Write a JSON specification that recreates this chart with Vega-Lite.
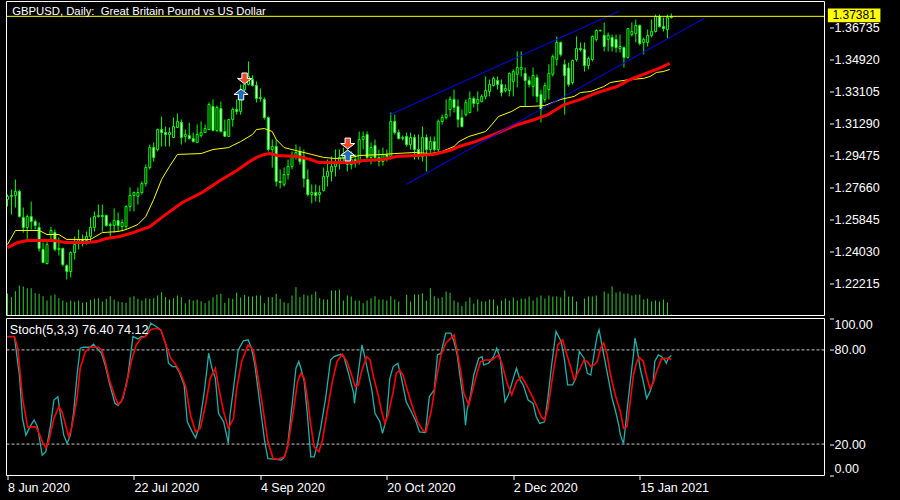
{
"$schema": "https://vega.github.io/schema/vega-lite/v6.json",
"background": "black",
"autosize": {"type": "none"},
"width": 828,
"height": 474,
"padding": {"left": 1.5, "top": 1.5, "right": 70.5, "bottom": 24.5},
"config": {
 "view": {"stroke": null},
 "axis": {"labelColor": "#FFFFFF", "tickColor": "#FFFFFF", "domain": false, "grid": false, "labelFont": "Liberation Sans", "labelFontSize": 12.5, "tickSize": 4, "labelPadding": 1},
 "text": {"font": "Liberation Sans"}
},
"datasets": {
"candles": [
{"i":0,"o":1.2700,"h":1.2728,"l":1.2660,"c":1.2717},
{"i":1,"o":1.2717,"h":1.2756,"l":1.2614,"c":1.2722},
{"i":2,"o":1.2722,"h":1.2813,"l":1.2654,"c":1.2745},
{"i":3,"o":1.2745,"h":1.2756,"l":1.2597,"c":1.2603},
{"i":4,"o":1.2597,"h":1.2654,"l":1.2512,"c":1.2541},
{"i":5,"o":1.2541,"h":1.2614,"l":1.2473,"c":1.2603},
{"i":6,"o":1.2603,"h":1.2688,"l":1.2529,"c":1.2575},
{"i":7,"o":1.2575,"h":1.2586,"l":1.2529,"c":1.2552},
{"i":8,"o":1.2541,"h":1.2569,"l":1.2405,"c":1.2422},
{"i":9,"o":1.2416,"h":1.2456,"l":1.2338,"c":1.2342},
{"i":10,"o":1.2337,"h":1.2461,"l":1.2331,"c":1.2444},
{"i":11,"o":1.2501,"h":1.2546,"l":1.2473,"c":1.2524},
{"i":12,"o":1.2512,"h":1.2529,"l":1.2405,"c":1.2416},
{"i":13,"o":1.2416,"h":1.2484,"l":1.2382,"c":1.2422},
{"i":14,"o":1.2422,"h":1.2427,"l":1.2320,"c":1.2331},
{"i":15,"o":1.2325,"h":1.2331,"l":1.2246,"c":1.2291},
{"i":16,"o":1.2291,"h":1.2405,"l":1.2257,"c":1.2399},
{"i":17,"o":1.2399,"h":1.2490,"l":1.2359,"c":1.2444},
{"i":18,"o":1.2456,"h":1.2529,"l":1.2416,"c":1.2473},
{"i":19,"o":1.2473,"h":1.2501,"l":1.2433,"c":1.2461},
{"i":20,"o":1.2467,"h":1.2518,"l":1.2444,"c":1.2490},
{"i":21,"o":1.2490,"h":1.2597,"l":1.2461,"c":1.2541},
{"i":22,"o":1.2541,"h":1.2632,"l":1.2518,"c":1.2603},
{"i":23,"o":1.2603,"h":1.2671,"l":1.2597,"c":1.2609},
{"i":24,"o":1.2609,"h":1.2671,"l":1.2518,"c":1.2603},
{"i":25,"o":1.2609,"h":1.2614,"l":1.2546,"c":1.2552},
{"i":26,"o":1.2552,"h":1.2569,"l":1.2490,"c":1.2558},
{"i":27,"o":1.2552,"h":1.2649,"l":1.2512,"c":1.2580},
{"i":28,"o":1.2580,"h":1.2626,"l":1.2518,"c":1.2552},
{"i":29,"o":1.2546,"h":1.2586,"l":1.2518,"c":1.2569},
{"i":30,"o":1.2546,"h":1.2666,"l":1.2529,"c":1.2660},
{"i":31,"o":1.2660,"h":1.2768,"l":1.2632,"c":1.2722},
{"i":32,"o":1.2722,"h":1.2745,"l":1.2632,"c":1.2739},
{"i":33,"o":1.2717,"h":1.2768,"l":1.2671,"c":1.2739},
{"i":34,"o":1.2739,"h":1.2802,"l":1.2728,"c":1.2790},
{"i":35,"o":1.2790,"h":1.2898,"l":1.2773,"c":1.2881},
{"i":36,"o":1.2881,"h":1.3011,"l":1.2870,"c":1.2994},
{"i":37,"o":1.2994,"h":1.3023,"l":1.2915,"c":1.2938},
{"i":38,"o":1.2983,"h":1.3102,"l":1.2972,"c":1.3096},
{"i":39,"o":1.3096,"h":1.3170,"l":1.3000,"c":1.3079},
{"i":40,"o":1.3079,"h":1.3113,"l":1.3000,"c":1.3068},
{"i":41,"o":1.3068,"h":1.3108,"l":1.3000,"c":1.3079},
{"i":42,"o":1.3051,"h":1.3164,"l":1.3049,"c":1.3113},
{"i":43,"o":1.3108,"h":1.3187,"l":1.3105,"c":1.3142},
{"i":44,"o":1.3136,"h":1.3153,"l":1.3011,"c":1.3051},
{"i":45,"o":1.3057,"h":1.3096,"l":1.3023,"c":1.3068},
{"i":46,"o":1.3062,"h":1.3136,"l":1.3040,"c":1.3045},
{"i":47,"o":1.3045,"h":1.3079,"l":1.3023,"c":1.3028},
{"i":48,"o":1.3023,"h":1.3125,"l":1.3020,"c":1.3068},
{"i":49,"o":1.3062,"h":1.3142,"l":1.3051,"c":1.3079},
{"i":50,"o":1.3079,"h":1.3125,"l":1.3077,"c":1.3102},
{"i":51,"o":1.3096,"h":1.3250,"l":1.3094,"c":1.3238},
{"i":52,"o":1.3227,"h":1.3267,"l":1.3085,"c":1.3091},
{"i":53,"o":1.3091,"h":1.3232,"l":1.3083,"c":1.3221},
{"i":54,"o":1.3215,"h":1.3255,"l":1.3079,"c":1.3085},
{"i":55,"o":1.3085,"h":1.3153,"l":1.3055,"c":1.3058},
{"i":56,"o":1.3057,"h":1.3156,"l":1.3055,"c":1.3153},
{"i":57,"o":1.3153,"h":1.3221,"l":1.3113,"c":1.3210},
{"i":58,"o":1.3210,"h":1.3267,"l":1.3181,"c":1.3199},
{"i":59,"o":1.3199,"h":1.3352,"l":1.3181,"c":1.3323},
{"i":60,"o":1.3323,"h":1.3380,"l":1.3312,"c":1.3352},
{"i":61,"o":1.3352,"h":1.3482,"l":1.3346,"c":1.3397},
{"i":62,"o":1.3380,"h":1.3403,"l":1.3340,"c":1.3346},
{"i":63,"o":1.3346,"h":1.3369,"l":1.3250,"c":1.3272},
{"i":64,"o":1.3272,"h":1.3329,"l":1.3255,"c":1.3278},
{"i":65,"o":1.3267,"h":1.3278,"l":1.3153,"c":1.3164},
{"i":66,"o":1.3164,"h":1.3170,"l":1.2972,"c":1.2983},
{"i":67,"o":1.2983,"h":1.3040,"l":1.2881,"c":1.3000},
{"i":68,"o":1.3000,"h":1.3040,"l":1.2773,"c":1.2802},
{"i":69,"o":1.2802,"h":1.2870,"l":1.2762,"c":1.2796},
{"i":70,"o":1.2785,"h":1.2881,"l":1.2773,"c":1.2841},
{"i":71,"o":1.2841,"h":1.2926,"l":1.2813,"c":1.2887},
{"i":72,"o":1.2887,"h":1.2972,"l":1.2870,"c":1.2943},
{"i":73,"o":1.2943,"h":1.3011,"l":1.2926,"c":1.2966},
{"i":74,"o":1.2972,"h":1.3000,"l":1.2898,"c":1.2915},
{"i":75,"o":1.2943,"h":1.2983,"l":1.2768,"c":1.2819},
{"i":76,"o":1.2813,"h":1.2870,"l":1.2717,"c":1.2728},
{"i":77,"o":1.2728,"h":1.2785,"l":1.2677,"c":1.2739},
{"i":78,"o":1.2739,"h":1.2785,"l":1.2688,"c":1.2722},
{"i":79,"o":1.2728,"h":1.2779,"l":1.2683,"c":1.2739},
{"i":80,"o":1.2751,"h":1.2881,"l":1.2745,"c":1.2830},
{"i":81,"o":1.2830,"h":1.2926,"l":1.2773,"c":1.2858},
{"i":82,"o":1.2858,"h":1.2943,"l":1.2802,"c":1.2887},
{"i":83,"o":1.2887,"h":1.2983,"l":1.2830,"c":1.2904},
{"i":84,"o":1.2904,"h":1.2983,"l":1.2870,"c":1.2938},
{"i":85,"o":1.2938,"h":1.2994,"l":1.2915,"c":1.2960},
{"i":86,"o":1.2960,"h":1.2983,"l":1.2858,"c":1.2898},
{"i":87,"o":1.2898,"h":1.2972,"l":1.2870,"c":1.2926},
{"i":88,"o":1.2926,"h":1.2955,"l":1.2881,"c":1.2909},
{"i":89,"o":1.2909,"h":1.3085,"l":1.2898,"c":1.3040},
{"i":90,"o":1.3040,"h":1.3085,"l":1.2983,"c":1.3057},
{"i":91,"o":1.3068,"h":1.3085,"l":1.2926,"c":1.2938},
{"i":92,"o":1.2938,"h":1.3023,"l":1.2898,"c":1.2994},
{"i":93,"o":1.3006,"h":1.3040,"l":1.2915,"c":1.2938},
{"i":94,"o":1.2938,"h":1.2983,"l":1.2887,"c":1.2915},
{"i":95,"o":1.2915,"h":1.2994,"l":1.2892,"c":1.2955},
{"i":96,"o":1.2955,"h":1.2983,"l":1.2915,"c":1.2943},
{"i":97,"o":1.2943,"h":1.3193,"l":1.2926,"c":1.3142},
{"i":98,"o":1.3142,"h":1.3181,"l":1.3068,"c":1.3079},
{"i":99,"o":1.3079,"h":1.3096,"l":1.3040,"c":1.3045},
{"i":100,"o":1.3045,"h":1.3062,"l":1.3034,"c":1.3051},
{"i":101,"o":1.3057,"h":1.3079,"l":1.3000,"c":1.3011},
{"i":102,"o":1.3011,"h":1.3079,"l":1.2983,"c":1.3051},
{"i":103,"o":1.3051,"h":1.3068,"l":1.2926,"c":1.2983},
{"i":104,"o":1.2983,"h":1.3068,"l":1.2926,"c":1.2943},
{"i":105,"o":1.2943,"h":1.3113,"l":1.2915,"c":1.3051},
{"i":106,"o":1.3051,"h":1.3068,"l":1.2858,"c":1.2983},
{"i":107,"o":1.2983,"h":1.3057,"l":1.2955,"c":1.3028},
{"i":108,"o":1.3028,"h":1.3057,"l":1.2972,"c":1.2983},
{"i":109,"o":1.2983,"h":1.3153,"l":1.2972,"c":1.3142},
{"i":110,"o":1.3142,"h":1.3181,"l":1.3125,"c":1.3164},
{"i":111,"o":1.3164,"h":1.3267,"l":1.3153,"c":1.3181},
{"i":112,"o":1.3210,"h":1.3284,"l":1.3170,"c":1.3267},
{"i":113,"o":1.3267,"h":1.3323,"l":1.3193,"c":1.3221},
{"i":114,"o":1.3227,"h":1.3267,"l":1.3108,"c":1.3153},
{"i":115,"o":1.3164,"h":1.3210,"l":1.3108,"c":1.3113},
{"i":116,"o":1.3181,"h":1.3267,"l":1.3170,"c":1.3250},
{"i":117,"o":1.3193,"h":1.3312,"l":1.3187,"c":1.3272},
{"i":118,"o":1.3272,"h":1.3284,"l":1.3221,"c":1.3244},
{"i":119,"o":1.3244,"h":1.3312,"l":1.3199,"c":1.3267},
{"i":120,"o":1.3255,"h":1.3295,"l":1.3250,"c":1.3284},
{"i":121,"o":1.3284,"h":1.3397,"l":1.3267,"c":1.3318},
{"i":122,"o":1.3312,"h":1.3380,"l":1.3284,"c":1.3352},
{"i":123,"o":1.3346,"h":1.3397,"l":1.3340,"c":1.3386},
{"i":124,"o":1.3374,"h":1.3397,"l":1.3323,"c":1.3352},
{"i":125,"o":1.3352,"h":1.3380,"l":1.3284,"c":1.3306},
{"i":126,"o":1.3318,"h":1.3352,"l":1.3306,"c":1.3329},
{"i":127,"o":1.3318,"h":1.3420,"l":1.3284,"c":1.3414},
{"i":128,"o":1.3369,"h":1.3437,"l":1.3284,"c":1.3425},
{"i":129,"o":1.3409,"h":1.3539,"l":1.3335,"c":1.3448},
{"i":130,"o":1.3437,"h":1.3539,"l":1.3397,"c":1.3448},
{"i":131,"o":1.3414,"h":1.3448,"l":1.3227,"c":1.3374},
{"i":132,"o":1.3374,"h":1.3397,"l":1.3335,"c":1.3352},
{"i":133,"o":1.3340,"h":1.3448,"l":1.3284,"c":1.3403},
{"i":134,"o":1.3391,"h":1.3409,"l":1.3250,"c":1.3284},
{"i":135,"o":1.3295,"h":1.3323,"l":1.3136,"c":1.3210},
{"i":136,"o":1.3267,"h":1.3363,"l":1.3250,"c":1.3346},
{"i":137,"o":1.3323,"h":1.3465,"l":1.3267,"c":1.3414},
{"i":138,"o":1.3409,"h":1.3522,"l":1.3397,"c":1.3510},
{"i":139,"o":1.3494,"h":1.3624,"l":1.3459,"c":1.3590},
{"i":140,"o":1.3590,"h":1.3595,"l":1.3510,"c":1.3522},
{"i":141,"o":1.3465,"h":1.3493,"l":1.3181,"c":1.3403},
{"i":142,"o":1.3445,"h":1.3476,"l":1.3340,"c":1.3352},
{"i":143,"o":1.3363,"h":1.3493,"l":1.3352,"c":1.3488},
{"i":144,"o":1.3493,"h":1.3624,"l":1.3482,"c":1.3556},
{"i":145,"o":1.3556,"h":1.3590,"l":1.3539,"c":1.3550},
{"i":146,"o":1.3550,"h":1.3590,"l":1.3425,"c":1.3459},
{"i":147,"o":1.3459,"h":1.3510,"l":1.3437,"c":1.3499},
{"i":148,"o":1.3493,"h":1.3630,"l":1.3482,"c":1.3624},
{"i":149,"o":1.3607,"h":1.3663,"l":1.3595,"c":1.3658},
{"i":150,"o":1.3656,"h":1.3663,"l":1.3652,"c":1.3658},
{"i":151,"o":1.3630,"h":1.3703,"l":1.3539,"c":1.3567},
{"i":152,"o":1.3607,"h":1.3646,"l":1.3539,"c":1.3630},
{"i":153,"o":1.3618,"h":1.3635,"l":1.3539,"c":1.3567},
{"i":154,"o":1.3607,"h":1.3635,"l":1.3533,"c":1.3561},
{"i":155,"o":1.3556,"h":1.3635,"l":1.3533,"c":1.3567},
{"i":156,"o":1.3561,"h":1.3567,"l":1.3448,"c":1.3505},
{"i":157,"o":1.3505,"h":1.3669,"l":1.3499,"c":1.3669},
{"i":158,"o":1.3635,"h":1.3703,"l":1.3624,"c":1.3652},
{"i":159,"o":1.3641,"h":1.3720,"l":1.3590,"c":1.3686},
{"i":160,"o":1.3686,"h":1.3692,"l":1.3573,"c":1.3584},
{"i":161,"o":1.3590,"h":1.3618,"l":1.3522,"c":1.3607},
{"i":162,"o":1.3590,"h":1.3663,"l":1.3567,"c":1.3630},
{"i":163,"o":1.3630,"h":1.3720,"l":1.3618,"c":1.3652},
{"i":164,"o":1.3652,"h":1.3748,"l":1.3646,"c":1.3737},
{"i":165,"o":1.3737,"h":1.3748,"l":1.3675,"c":1.3680},
{"i":166,"o":1.3680,"h":1.3731,"l":1.3652,"c":1.3669},
{"i":167,"o":1.3663,"h":1.3748,"l":1.3612,"c":1.3731},
{"i":168,"o":1.3731,"h":1.3754,"l":1.3726,"c":1.37381}
],
"vol": [
{"i":0,"v":110000},{"i":1,"v":91500},{"i":2,"v":121500},{"i":3,"v":150000},{"i":4,"v":145000},{"i":5,"v":136500},{"i":6,"v":136500},{"i":7,"v":111500},{"i":8,"v":108500},{"i":9,"v":96500},
{"i":10,"v":75000},{"i":11,"v":100000},{"i":12,"v":105000},{"i":13,"v":86500},{"i":14,"v":75000},{"i":15,"v":66500},{"i":16,"v":75000},{"i":17,"v":70000},{"i":18,"v":75000},{"i":19,"v":63500},
{"i":20,"v":66500},{"i":21,"v":78500},{"i":22,"v":83500},{"i":23,"v":86500},{"i":24,"v":70000},{"i":25,"v":83500},{"i":26,"v":96500},{"i":27,"v":80000},{"i":28,"v":70000},{"i":29,"v":66500},
{"i":30,"v":63500},{"i":31,"v":91500},{"i":32,"v":96500},{"i":33,"v":83500},{"i":34,"v":75000},{"i":35,"v":86500},{"i":36,"v":83500},{"i":37,"v":86500},{"i":38,"v":100000},{"i":39,"v":116500},
{"i":40,"v":91500},{"i":41,"v":80000},{"i":42,"v":86500},{"i":43,"v":100000},{"i":44,"v":91500},{"i":45,"v":61500},{"i":46,"v":80000},{"i":47,"v":75000},{"i":48,"v":80000},{"i":49,"v":71500},
{"i":50,"v":61500},{"i":51,"v":75000},{"i":52,"v":91500},{"i":53,"v":105000},{"i":54,"v":108500},{"i":55,"v":63500},{"i":56,"v":86500},{"i":57,"v":83500},{"i":58,"v":115000},{"i":59,"v":90000},
{"i":60,"v":103500},{"i":61,"v":95000},{"i":62,"v":95000},{"i":63,"v":100000},{"i":64,"v":100000},{"i":65,"v":61500},{"i":66,"v":91500},{"i":67,"v":91500},{"i":68,"v":108500},{"i":69,"v":83500},
{"i":70,"v":66500},{"i":71,"v":61500},{"i":72,"v":100000},{"i":73,"v":141500},{"i":74,"v":91500},{"i":75,"v":105000},{"i":76,"v":100000},{"i":77,"v":105000},{"i":78,"v":120000},{"i":79,"v":86500},
{"i":80,"v":80000},{"i":81,"v":80000},{"i":82,"v":125000},{"i":83,"v":125000},{"i":84,"v":130000},{"i":85,"v":75000},{"i":86,"v":100000},{"i":87,"v":95000},{"i":88,"v":75000},{"i":89,"v":75000},
{"i":90,"v":61500},{"i":91,"v":75000},{"i":92,"v":86500},{"i":93,"v":96500},{"i":94,"v":80000},{"i":95,"v":80000},{"i":96,"v":75000},{"i":97,"v":96500},{"i":98,"v":80000},{"i":99,"v":70000},
{"i":100,"v":2500},{"i":101,"v":103500},{"i":102,"v":70000},{"i":103,"v":105000},{"i":104,"v":105000},{"i":105,"v":111500},{"i":106,"v":75000},{"i":107,"v":136500},{"i":108,"v":96500},{"i":109,"v":86500},
{"i":110,"v":91500},{"i":111,"v":120000},{"i":112,"v":113500},{"i":113,"v":75000},{"i":114,"v":66500},{"i":115,"v":48000},{"i":116,"v":70000},{"i":117,"v":90000},{"i":118,"v":60000},{"i":119,"v":80000},
{"i":120,"v":70000},{"i":121,"v":70000},{"i":122,"v":80000},{"i":123,"v":80000},{"i":124,"v":50000},{"i":125,"v":75000},{"i":126,"v":85000},{"i":127,"v":75000},{"i":128,"v":90000},{"i":129,"v":75000},
{"i":130,"v":85000},{"i":131,"v":85000},{"i":132,"v":95000},{"i":133,"v":75000},{"i":134,"v":90000},{"i":135,"v":100000},{"i":136,"v":85000},{"i":137,"v":100000},{"i":138,"v":95000},{"i":139,"v":95000},
{"i":140,"v":90000},{"i":141,"v":125000},{"i":142,"v":95000},{"i":143,"v":95000},{"i":144,"v":70000},{"i":145,"v":2500},{"i":146,"v":85000},{"i":147,"v":95000},{"i":148,"v":95000},{"i":149,"v":100000},
{"i":150,"v":2500},{"i":151,"v":120000},{"i":152,"v":110000},{"i":153,"v":145000},{"i":154,"v":115000},{"i":155,"v":120000},{"i":156,"v":110000},{"i":157,"v":110000},{"i":158,"v":100000},{"i":159,"v":105000},
{"i":160,"v":105000},{"i":161,"v":80000},{"i":162,"v":85000},{"i":163,"v":70000},{"i":164,"v":75000},{"i":165,"v":70000},{"i":166,"v":80000},{"i":167,"v":65000},{"i":168,"v":5000}
],
"maf": [
{"i":0,"p":1.2444},{"i":2,"p":1.2524},{"i":8,"p":1.2524},{"i":10,"p":1.2501},{"i":13,"p":1.2501},{"i":15,"p":1.2473},{"i":21,"p":1.2473},{"i":24,"p":1.2512},{"i":28,"p":1.2518},{"i":30,"p":1.2529},
{"i":33,"p":1.2558},{"i":35,"p":1.2603},{"i":37,"p":1.2700},{"i":39,"p":1.2813},{"i":41,"p":1.2887},{"i":43,"p":1.2955},{"i":49,"p":1.2960},{"i":52,"p":1.2983},{"i":56,"p":1.2994},{"i":57,"p":1.3006},
{"i":59,"p":1.3028},{"i":62,"p":1.3068},{"i":63,"p":1.3096},{"i":65,"p":1.3102},{"i":67,"p":1.3085},{"i":68,"p":1.3040},{"i":70,"p":1.2994},{"i":73,"p":1.2977},{"i":77,"p":1.2955},{"i":80,"p":1.2938},
{"i":83,"p":1.2932},{"i":87,"p":1.2938},{"i":89,"p":1.2949},{"i":95,"p":1.2955},{"i":98,"p":1.2960},{"i":103,"p":1.2966},{"i":107,"p":1.2960},{"i":110,"p":1.2972},{"i":113,"p":1.3000},{"i":114.25,"p":1.3028},
{"i":116.75,"p":1.3057},{"i":121,"p":1.3085},{"i":122.6,"p":1.3125},{"i":124.25,"p":1.3170},{"i":127.6,"p":1.3199},{"i":129.7,"p":1.3227},{"i":132.2,"p":1.3227},{"i":135.9,"p":1.3232},{"i":140,"p":1.3267},{"i":143.4,"p":1.3284},
{"i":145,"p":1.3306},{"i":147.6,"p":1.3312},{"i":150.9,"p":1.3340},{"i":152.6,"p":1.3363},{"i":154.25,"p":1.3369},{"i":157.6,"p":1.3380},{"i":160.9,"p":1.3386},{"i":162.6,"p":1.3397},{"i":164.25,"p":1.3420},{"i":165.9,"p":1.3425},
{"i":167.6,"p":1.3437}
],
"mas": [
{"i":0,"p":1.2427},{"i":2.6,"p":1.2456},{"i":5,"p":1.2467},{"i":11.75,"p":1.2467},{"i":14.7,"p":1.2456},{"i":20,"p":1.2456},{"i":22.6,"p":1.2461},{"i":25,"p":1.2478},{"i":28.4,"p":1.2490},{"i":31.75,"p":1.2512},
{"i":36,"p":1.2546},{"i":40,"p":1.2614},{"i":44.25,"p":1.2683},{"i":49.25,"p":1.2739},{"i":53.4,"p":1.2802},{"i":56.75,"p":1.2847},{"i":58.4,"p":1.2870},{"i":60.9,"p":1.2909},{"i":63,"p":1.2938},{"i":65,"p":1.2955},
{"i":66.3,"p":1.2960},{"i":68.4,"p":1.2949},{"i":73.4,"p":1.2943},{"i":76.75,"p":1.2926},{"i":78.8,"p":1.2909},{"i":87.6,"p":1.2909},{"i":90,"p":1.2921},{"i":95,"p":1.2926},{"i":98.4,"p":1.2943},{"i":103.4,"p":1.2949},
{"i":107.6,"p":1.2955},{"i":110.9,"p":1.2972},{"i":112.6,"p":1.2983},{"i":114.25,"p":1.3000},{"i":118.4,"p":1.3028},{"i":124.25,"p":1.3079},{"i":128.4,"p":1.3119},{"i":133.4,"p":1.3153},{"i":136.75,"p":1.3181},{"i":140.9,"p":1.3238},
{"i":145,"p":1.3267},{"i":149.25,"p":1.3306},{"i":154.25,"p":1.3340},{"i":157.6,"p":1.3380},{"i":160.9,"p":1.3409},{"i":164.25,"p":1.3437},{"i":167.6,"p":1.3471}
],
"stk": [
{"i":0,"k":88.5},{"i":1.75,"k":88.5},{"i":3,"k":64.0},{"i":3.8,"k":36.4},{"i":4.67,"k":25.7},{"i":5.9,"k":32.1},{"i":6.75,"k":35.3},{"i":7.6,"k":31.0},{"i":8.8,"k":12.9},{"i":9.7,"k":15.1},
{"i":10.9,"k":32.1},{"i":11.75,"k":48.1},{"i":12.75,"k":50.2},{"i":13.4,"k":38.5},{"i":14.25,"k":25.7},{"i":15.1,"k":20.4},{"i":15.9,"k":25.7},{"i":16.75,"k":40.6},{"i":17.6,"k":64.0},{"i":18.4,"k":81.1},
{"i":19.25,"k":81.7},{"i":20.9,"k":81.7},{"i":21.75,"k":83.6},{"i":23,"k":80.0},{"i":23.8,"k":77.9},{"i":24.7,"k":70.4},{"i":25.9,"k":57.7},{"i":27.2,"k":46.0},{"i":28,"k":44.5},{"i":29.25,"k":49.2},
{"i":30.5,"k":64.0},{"i":31.75,"k":88.5},{"i":33,"k":87.0},{"i":33.8,"k":88.5},{"i":34.9,"k":88.5},{"i":36.3,"k":97},{"i":37.6,"k":94.9},{"i":38.8,"k":92.8},{"i":40.1,"k":83.2},{"i":40.75,"k":71.5},
{"i":41.75,"k":69.4},{"i":42.6,"k":69.4},{"i":43.4,"k":66.2},{"i":44.7,"k":57.7},{"i":45.5,"k":34.2},{"i":46.75,"k":27.8},{"i":47.6,"k":24.0},{"i":48.4,"k":30.0},{"i":49.7,"k":51.3},{"i":50.5,"k":68.3},
{"i":50.9,"k":77.9},{"i":51.75,"k":68.3},{"i":52.6,"k":61.9},{"i":53.4,"k":39.6},{"i":54.7,"k":34.2},{"i":55.9,"k":20.4},{"i":56.3,"k":38.5},{"i":57.2,"k":55.5},{"i":58.4,"k":80.0},{"i":59.7,"k":85.8},
{"i":60.9,"k":86.4},{"i":61.75,"k":81.1},{"i":62.6,"k":70.4},{"i":63.8,"k":47.0},{"i":65.1,"k":21.5},{"i":65.9,"k":10.8},{"i":67.6,"k":10.4},{"i":69.25,"k":9.8},{"i":70.1,"k":11.9},{"i":70.9,"k":19.3},
{"i":72.2,"k":49.1},{"i":73,"k":68.3},{"i":73.7,"k":72.6},{"i":74.25,"k":68.3},{"i":75.1,"k":59.8},{"i":75.9,"k":38.5},{"i":76.75,"k":11.9},{"i":77.6,"k":11.9},{"i":78.4,"k":19.3},{"i":79.25,"k":30.0},
{"i":80.5,"k":49.1},{"i":81.75,"k":73.6},{"i":82.6,"k":75.7},{"i":84.25,"k":77.2},{"i":85.1,"k":75.7},{"i":86.3,"k":65.1},{"i":87.6,"k":52.3},{"i":87.8,"k":45.9},{"i":88.8,"k":66.2},{"i":89.7,"k":83.2},
{"i":90.5,"k":74.7},{"i":91.3,"k":65.1},{"i":92.2,"k":54.5},{"i":93,"k":39.6},{"i":94.25,"k":34.2},{"i":94.9,"k":26.8},{"i":95.9,"k":36.4},{"i":96.75,"k":61.9},{"i":97.6,"k":69.4},{"i":98.8,"k":71.5},
{"i":99.7,"k":61.9},{"i":100.9,"k":47.0},{"i":102.2,"k":40.6},{"i":103.4,"k":34.2},{"i":104.25,"k":27.8},{"i":105.75,"k":27.4},{"i":106.75,"k":50.2},{"i":108,"k":54.5},{"i":108.8,"k":76.8},{"i":109.7,"k":77.9},
{"i":110.9,"k":90.7},{"i":112.2,"k":90.7},{"i":113,"k":85.3},{"i":113.8,"k":76.8},{"i":114.7,"k":59.8},{"i":115.5,"k":44.9},{"i":115.9,"k":32.1},{"i":116.3,"k":41.7},{"i":117.2,"k":51.3},{"i":118,"k":64.0},
{"i":119.25,"k":74.7},{"i":120.1,"k":75.7},{"i":120.5,"k":70.4},{"i":121.75,"k":71.5},{"i":123,"k":75.7},{"i":123.8,"k":81.1},{"i":124.7,"k":74.7},{"i":125.9,"k":47.0},{"i":126.75,"k":51.3},{"i":128,"k":61.9},
{"i":128.8,"k":68.3},{"i":129.7,"k":60.9},{"i":130.5,"k":57.7},{"i":131.75,"k":48.1},{"i":133,"k":45.9},{"i":133.8,"k":37.4},{"i":134.7,"k":33.2},{"i":135.9,"k":34.2},{"i":136.75,"k":49.1},{"i":137.6,"k":68.3},
{"i":138.8,"k":91.7},{"i":140.1,"k":85.3},{"i":140.9,"k":74.7},{"i":141.75,"k":57.7},{"i":143,"k":57.7},{"i":143.8,"k":61.9},{"i":144.7,"k":79.0},{"i":145.9,"k":74.7},{"i":146.75,"k":65.1},{"i":147.6,"k":64.0},
{"i":148.4,"k":76.8},{"i":149.25,"k":89.6},{"i":149.7,"k":92.8},{"i":150.1,"k":87.5},{"i":150.9,"k":76.8},{"i":152.2,"k":59.8},{"i":153,"k":49.1},{"i":153.8,"k":41.7},{"i":154.7,"k":32.1},{"i":155.1,"k":25.7},
{"i":155.9,"k":20.4},{"i":156.75,"k":40.6},{"i":157.6,"k":59.8},{"i":158.4,"k":76.8},{"i":158.8,"k":87.5},{"i":159.25,"k":82.1},{"i":160.1,"k":68.3},{"i":160.9,"k":59.8},{"i":161.75,"k":49.1},{"i":162.6,"k":53.4},
{"i":163.4,"k":59.8},{"i":163.8,"k":72.6},{"i":164.7,"k":76.8},{"i":165.5,"k":75.7},{"i":166.3,"k":73.6},{"i":166.75,"k":71.5},{"i":167.2,"k":74.7},{"i":168,"k":76.4}
],
"std": [
{"i":0,"d":88.5},{"i":1.75,"d":88.5},{"i":2.6,"d":81.1},{"i":3.8,"d":49.2},{"i":5.1,"d":31.0},{"i":7.2,"d":31.0},{"i":8,"d":26.8},{"i":8.8,"d":21.5},{"i":9.7,"d":17.6},{"i":10.5,"d":22.5},
{"i":11.75,"d":36.4},{"i":13,"d":43.8},{"i":13.8,"d":40.6},{"i":14.7,"d":32.1},{"i":15.5,"d":24.6},{"i":16.3,"d":31.0},{"i":17.6,"d":49.2},{"i":18.4,"d":68.3},{"i":19.7,"d":78.9},{"i":20.9,"d":81.7},
{"i":23,"d":81.7},{"i":23.8,"d":80.0},{"i":24.7,"d":72.6},{"i":25.9,"d":59.8},{"i":27.2,"d":50.2},{"i":28,"d":45.3},{"i":28.8,"d":47.0},{"i":30.1,"d":57.7},{"i":31.3,"d":72.6},{"i":32.6,"d":83.2},
{"i":33.8,"d":87.5},{"i":34.9,"d":88.5},{"i":36.3,"d":93},{"i":37.6,"d":93.8},{"i":38.8,"d":92.8},{"i":40.1,"d":83.2},{"i":41.3,"d":74.7},{"i":42.6,"d":70.4},{"i":43.8,"d":65.1},{"i":45.1,"d":56.6},
{"i":46.3,"d":38.5},{"i":47.6,"d":27.8},{"i":48.8,"d":30.0},{"i":50.1,"d":44.9},{"i":51.3,"d":61.9},{"i":52.6,"d":68.3},{"i":53.4,"d":56.6},{"i":54.7,"d":40.6},{"i":55.9,"d":30.0},{"i":57.2,"d":36.4},
{"i":58,"d":55.5},{"i":59.25,"d":72.6},{"i":60.9,"d":83.2},{"i":62.2,"d":80.0},{"i":63,"d":68.3},{"i":64.25,"d":49.2},{"i":65.9,"d":21.5},{"i":67.2,"d":10.8},{"i":68.4,"d":10.4},{"i":70.1,"d":11.9},
{"i":70.9,"d":18.3},{"i":72.2,"d":38.5},{"i":73.4,"d":59.8},{"i":74.25,"d":65.1},{"i":75.1,"d":61.9},{"i":75.9,"d":49.1},{"i":76.75,"d":32.1},{"i":77.6,"d":18.3},{"i":78.8,"d":15.1},{"i":79.7,"d":22.5},
{"i":80.9,"d":40.6},{"i":82.2,"d":59.8},{"i":83.4,"d":72.6},{"i":84.7,"d":77.2},{"i":85.9,"d":72.6},{"i":87.2,"d":63.0},{"i":88,"d":56.6},{"i":88.8,"d":57.7},{"i":89.7,"d":67.2},{"i":90.9,"d":75.7},
{"i":91.75,"d":73.6},{"i":92.6,"d":63.0},{"i":93.8,"d":51.3},{"i":94.7,"d":40.6},{"i":95.5,"d":33.2},{"i":96.3,"d":38.5},{"i":97.6,"d":53.4},{"i":98.4,"d":65.1},{"i":99.25,"d":67.2},{"i":100.1,"d":64.0},
{"i":101.3,"d":53.4},{"i":102.6,"d":42.8},{"i":103.8,"d":34.2},{"i":105.1,"d":28.9},{"i":105.9,"d":27.8},{"i":107.2,"d":40.6},{"i":108.4,"d":59.8},{"i":109.7,"d":76.8},{"i":110.9,"d":84.3},{"i":112.2,"d":87.5},
{"i":113,"d":89.6},{"i":113.8,"d":78.9},{"i":114.7,"d":66.2},{"i":115.5,"d":52.3},{"i":116.75,"d":44.9},{"i":117.6,"d":53.4},{"i":118.8,"d":65.1},{"i":119.7,"d":72.6},{"i":120.9,"d":73.6},{"i":122.6,"d":73.6},
{"i":124.25,"d":76.8},{"i":125.1,"d":71.5},{"i":126.3,"d":59.8},{"i":127.6,"d":51.3},{"i":128.8,"d":59.8},{"i":130.1,"d":63.0},{"i":131.3,"d":57.7},{"i":132.6,"d":51.3},{"i":133.8,"d":44.9},{"i":135.1,"d":37.4},
{"i":135.9,"d":35.3},{"i":136.75,"d":42.8},{"i":138,"d":64.0},{"i":139.25,"d":83.2},{"i":140.5,"d":86.4},{"i":141.3,"d":78.9},{"i":142.6,"d":68.3},{"i":143.4,"d":60.9},{"i":144.7,"d":67.2},{"i":145.9,"d":73.6},
{"i":146.75,"d":72.6},{"i":147.6,"d":69.4},{"i":148.4,"d":70.4},{"i":149.25,"d":72.6},{"i":150.1,"d":81.1},{"i":150.9,"d":84.3},{"i":151.75,"d":76.8},{"i":152.6,"d":64.0},{"i":153.8,"d":51.3},{"i":155.1,"d":40.6},
{"i":155.9,"d":30.0},{"i":156.75,"d":31.0},{"i":157.6,"d":47.0},{"i":158.4,"d":64.0},{"i":159.25,"d":72.6},{"i":159.9,"d":75.1},{"i":160.9,"d":72.6},{"i":161.75,"d":63.0},{"i":162.6,"d":55.5},{"i":163.4,"d":58.7},
{"i":164.25,"d":66.2},{"i":165.5,"d":74.3},{"i":166.75,"d":74.7},{"i":168,"d":74.12}
]
},
"encoding": {
 "x": {"field": "i", "type": "quantitative", "scale": {"domain": [-0.25, 206.75], "nice": false, "zero": false},
  "axis": {"orient": "bottom", "values": [0, 32, 64, 96, 128, 160], "labelExpr": "datum.value == 0 ? '8 Jun 2020' : datum.value == 32 ? '22 Jul 2020' : datum.value == 64 ? '4 Sep 2020' : datum.value == 96 ? '20 Oct 2020' : datum.value == 128 ? '2 Dec 2020' : '15 Jan 2021'", "labelAlign": "left", "labelFlush": false, "labelOverlap": false, "title": null, "tickSize": 4, "labelPadding": 2}}
},
"resolve": {"scale": {"y": "independent"}},
"layer": [
 {"data": {"name": "vol"}, "mark": {"type": "rule", "color": "#32CD32", "strokeWidth": 1},
  "encoding": {
   "y": {"field": "v", "type": "quantitative", "scale": {"domain": [-800000, 1570000], "nice": false, "zero": false}, "axis": null},
   "y2": {"datum": 0}}},
 {"layer": [
  {"data": {"name": "candles"}, "mark": {"type": "rule", "color": "#00FF00", "strokeWidth": 1},
   "encoding": {
    "y": {"field": "l", "type": "quantitative", "scale": {"domain": [1.11346, 1.38222], "nice": false, "zero": false},
          "axis": {"orient": "right", "values": [1.22215, 1.2403, 1.25845, 1.2766, 1.29475, 1.3129, 1.33105, 1.3492, 1.36735], "format": ".5f", "title": null, "labelFlush": false, "labelOverlap": false, "tickSize": 4, "labelPadding": 0.5}},
    "y2": {"field": "h"}}},
  {"data": {"name": "candles"}, "mark": {"type": "bar", "width": 2, "stroke": "#00FF00", "strokeWidth": 1},
   "encoding": {
    "y": {"field": "o", "type": "quantitative", "axis": {"orient": "right", "values": [1.22215, 1.2403, 1.25845, 1.2766, 1.29475, 1.3129, 1.33105, 1.3492, 1.36735], "format": ".5f", "title": null, "labelFlush": false, "labelOverlap": false, "tickSize": 4, "labelPadding": 0.5}},
    "y2": {"field": "c"},
    "fill": {"condition": {"test": "datum.c < datum.o", "value": "#FFFFFF"}, "value": "#000000"}}},
  {"data": {"name": "maf"}, "mark": {"type": "line", "color": "#FFFF00", "strokeWidth": 1},
   "encoding": {"y": {"field": "p", "type": "quantitative", "axis": {"orient": "right", "values": [1.22215, 1.2403, 1.25845, 1.2766, 1.29475, 1.3129, 1.33105, 1.3492, 1.36735], "format": ".5f", "title": null, "labelFlush": false, "labelOverlap": false, "tickSize": 4, "labelPadding": 0.5}}}},
  {"data": {"name": "mas"}, "mark": {"type": "line", "color": "#FF0000", "strokeWidth": 3},
   "encoding": {"y": {"field": "p", "type": "quantitative", "axis": {"orient": "right", "values": [1.22215, 1.2403, 1.25845, 1.2766, 1.29475, 1.3129, 1.33105, 1.3492, 1.36735], "format": ".5f", "title": null, "labelFlush": false, "labelOverlap": false, "tickSize": 4, "labelPadding": 0.5}}}},
  {"data": {"values": [{"i": 96.9, "p": 1.3181, "ln": "up"}, {"i": 154.8, "p": 1.3767, "ln": "up"}, {"i": 100.9, "p": 1.2785, "ln": "lo"}, {"i": 176.4, "p": 1.3728, "ln": "lo"}, {"i": -0.25, "p": 1.37381, "ln": "hl"}, {"i": 206.75, "p": 1.37381, "ln": "hl"}]},
   "mark": {"type": "line", "strokeWidth": 1},
   "encoding": {"y": {"field": "p", "type": "quantitative", "axis": {"orient": "right", "values": [1.22215, 1.2403, 1.25845, 1.2766, 1.29475, 1.3129, 1.33105, 1.3492, 1.36735], "format": ".5f", "title": null, "labelFlush": false, "labelOverlap": false, "tickSize": 4, "labelPadding": 0.5}},
    "detail": {"field": "ln"},
    "color": {"field": "ln", "type": "nominal", "scale": {"domain": ["up", "lo", "hl"], "range": ["#0000FF", "#0000FF", "#FFFF00"]}, "legend": null}}},
  {"data": {"values": [{"i": 60, "p": 1.3386}, {"i": 86.1, "p": 1.3017}]},
   "mark": {"type": "point", "shape": "M-0.38,-0.77L0.38,-0.77L0.38,0L1,0L0,0.77L-1,0L-0.38,0Z", "size": 200, "filled": true, "fill": "#E8492B", "stroke": "#FFFFFF", "strokeWidth": 1, "opacity": 1},
   "encoding": {"y": {"field": "p", "type": "quantitative", "axis": {"orient": "right", "values": [1.22215, 1.2403, 1.25845, 1.2766, 1.29475, 1.3129, 1.33105, 1.3492, 1.36735], "format": ".5f", "title": null, "labelFlush": false, "labelOverlap": false, "tickSize": 4, "labelPadding": 0.5}}}},
  {"data": {"values": [{"i": 59.1, "p": 1.3295}, {"i": 86.1, "p": 1.2949}]},
   "mark": {"type": "point", "shape": "M-0.38,0.77L0.38,0.77L0.38,0L1,0L0,-0.77L-1,0L-0.38,0Z", "size": 200, "filled": true, "fill": "#1F6DB8", "stroke": "#FFFFFF", "strokeWidth": 1, "opacity": 1},
   "encoding": {"y": {"field": "p", "type": "quantitative", "axis": {"orient": "right", "values": [1.22215, 1.2403, 1.25845, 1.2766, 1.29475, 1.3129, 1.33105, 1.3492, 1.36735], "format": ".5f", "title": null, "labelFlush": false, "labelOverlap": false, "tickSize": 4, "labelPadding": 0.5}}}},
  {"data": {"values": [{"i": 1.2, "p": 1.3748, "t": "GBPUSD, Daily:\u00a0 Great Britain Pound vs US Dollar"}]},
   "mark": {"type": "text", "color": "#FFFFFF", "fontSize": 11.3, "align": "left", "baseline": "alphabetic", "font": "Liberation Sans"},
   "encoding": {"y": {"field": "p", "type": "quantitative", "axis": {"orient": "right", "values": [1.22215, 1.2403, 1.25845, 1.2766, 1.29475, 1.3129, 1.33105, 1.3492, 1.36735], "format": ".5f", "title": null, "labelFlush": false, "labelOverlap": false, "tickSize": 4, "labelPadding": 0.5}}, "text": {"field": "t"}}},
  {"data": {"values": [{"i": 207.6, "i2": 220.9, "p": 1.37043, "p2": 1.37825}]},
   "mark": {"type": "rect", "color": "#FFFF00"},
   "encoding": {"x2": {"field": "i2"}, "y": {"field": "p", "type": "quantitative", "axis": {"orient": "right", "values": [1.22215, 1.2403, 1.25845, 1.2766, 1.29475, 1.3129, 1.33105, 1.3492, 1.36735], "format": ".5f", "title": null, "labelFlush": false, "labelOverlap": false, "tickSize": 4, "labelPadding": 0.5}}, "y2": {"field": "p2"}}},
  {"data": {"values": [{"i": 214.25, "p": 1.37434, "t": "1.37381"}]},
   "mark": {"type": "text", "color": "#000000", "fontSize": 12, "align": "center", "baseline": "middle", "font": "Liberation Sans"},
   "encoding": {"y": {"field": "p", "type": "quantitative", "axis": {"orient": "right", "values": [1.22215, 1.2403, 1.25845, 1.2766, 1.29475, 1.3129, 1.33105, 1.3492, 1.36735], "format": ".5f", "title": null, "labelFlush": false, "labelOverlap": false, "tickSize": 4, "labelPadding": 0.5}}, "text": {"field": "t"}}},
  {"data": {"values": [{"i": -0.25, "i2": 206.75, "p": 1.20418, "p2": 1.38222}]},
   "mark": {"type": "rect", "fillOpacity": 0, "stroke": "#FFFFFF", "strokeWidth": 1},
   "encoding": {"x2": {"field": "i2"}, "y": {"field": "p", "type": "quantitative", "axis": {"orient": "right", "values": [1.22215, 1.2403, 1.25845, 1.2766, 1.29475, 1.3129, 1.33105, 1.3492, 1.36735], "format": ".5f", "title": null, "labelFlush": false, "labelOverlap": false, "tickSize": 4, "labelPadding": 0.5}}, "y2": {"field": "p2"}}}
 ]},
 {"layer": [
  {"data": {"values": [{"i": -0.25, "s": 20, "g": "a"}, {"i": 206.75, "s": 20, "g": "a"}, {"i": -0.25, "s": 80, "g": "b"}, {"i": 206.75, "s": 80, "g": "b"}]},
   "mark": {"type": "line", "color": "#C8C8C8", "strokeDash": [3, 2], "strokeWidth": 1},
   "encoding": {"y": {"field": "s", "type": "quantitative", "scale": {"domain": [0, 301.9], "nice": false, "zero": false},
     "axis": {"orient": "right", "values": [0, 20, 80, 100], "format": ".2f", "title": null, "labelFlush": false, "labelOverlap": false, "tickSize": 4, "labelPadding": 0.5, "labelBaseline": {"condition": [{"test": "datum.value == 100", "value": "top"}, {"test": "datum.value == 0", "value": "bottom"}], "value": "middle"}}},
    "detail": {"field": "g"}}},
  {"data": {"name": "stk"}, "mark": {"type": "line", "color": "#20B2AA", "strokeWidth": 1.3},
   "encoding": {"y": {"field": "k", "type": "quantitative",
     "axis": {"orient": "right", "values": [0, 20, 80, 100], "format": ".2f", "title": null, "labelFlush": false, "labelOverlap": false, "tickSize": 4, "labelPadding": 0.5, "labelBaseline": {"condition": [{"test": "datum.value == 100", "value": "top"}, {"test": "datum.value == 0", "value": "bottom"}], "value": "middle"}}}}},
  {"data": {"name": "std"}, "mark": {"type": "line", "color": "#FF0000", "strokeWidth": 1.6},
   "encoding": {"y": {"field": "d", "type": "quantitative",
     "axis": {"orient": "right", "values": [0, 20, 80, 100], "format": ".2f", "title": null, "labelFlush": false, "labelOverlap": false, "tickSize": 4, "labelPadding": 0.5, "labelBaseline": {"condition": [{"test": "datum.value == 100", "value": "top"}, {"test": "datum.value == 0", "value": "bottom"}], "value": "middle"}}}}},
  {"data": {"values": [{"i": 0.6, "s": 90.4, "t": "Stoch(5,3,3) 76.40 74.12"}]},
   "mark": {"type": "text", "color": "#FFFFFF", "fontSize": 12.6, "align": "left", "baseline": "alphabetic", "font": "Liberation Sans"},
   "encoding": {"y": {"field": "s", "type": "quantitative",
     "axis": {"orient": "right", "values": [0, 20, 80, 100], "format": ".2f", "title": null, "labelFlush": false, "labelOverlap": false, "tickSize": 4, "labelPadding": 0.5, "labelBaseline": {"condition": [{"test": "datum.value == 100", "value": "top"}, {"test": "datum.value == 0", "value": "bottom"}], "value": "middle"}}}, "text": {"field": "t"}}},
  {"data": {"values": [{"i": -0.25, "i2": 206.75, "s": 0, "s2": 100}]},
   "mark": {"type": "rect", "fillOpacity": 0, "stroke": "#FFFFFF", "strokeWidth": 1},
   "encoding": {"x2": {"field": "i2"}, "y": {"field": "s", "type": "quantitative",
     "axis": {"orient": "right", "values": [0, 20, 80, 100], "format": ".2f", "title": null, "labelFlush": false, "labelOverlap": false, "tickSize": 4, "labelPadding": 0.5, "labelBaseline": {"condition": [{"test": "datum.value == 100", "value": "top"}, {"test": "datum.value == 0", "value": "bottom"}], "value": "middle"}}}, "y2": {"field": "s2"}}}
 ]}
]
}
